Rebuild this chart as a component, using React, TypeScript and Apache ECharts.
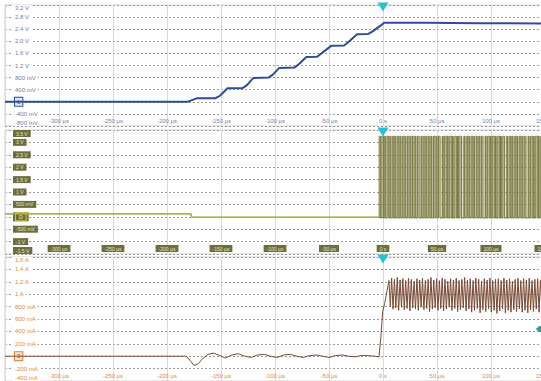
import React, { useEffect, useRef } from "react";
import * as echarts from "echarts";

// ---------- tick labels ----------
const timeTickLabels = ["-350 µs", "-300 µs", "-250 µs", "-200 µs", "-150 µs", "-100 µs", "-50 µs", "0 s", "50 µs", "100 µs", "150 µs"];
const ch1TickLabels = ["-800 mV", "-400 mV", "0", "400 mV", "800 mV", "1.2 V", "1.6 V", "2.0 V", "2.4 V", "2.8 V", "3.2 V"];
const ch2TickLabels = ["-1.5 V", "-1 V", "-500 mV", "0", "500 mV", "1 V", "1.5 V", "2 V", "2.5 V", "3 V", "3.5 V"];
const ch3TickLabels = ["-400 mA", "-200 mA", "0", "200 mA", "400 mA", "600 mA", "800 mA", "1 A", "1.2 A", "1.4 A", "1.6 A"];

// ---------- channel 1: staircase voltage (µs, V) ----------
const ch1Voltage: [number, number][] = [
  [-350, 0], [-181, 0], [-178, 0.04], [-172, 0.12], [-155, 0.12], [-151, 0.2], [-144, 0.45],
  [-130, 0.45], [-126, 0.55], [-120, 0.79], [-106, 0.8], [-102, 0.9], [-96, 1.12],
  [-82, 1.13], [-78, 1.24], [-71, 1.48], [-61, 1.49], [-57, 1.6], [-48, 1.85],
  [-36, 1.86], [-32, 1.98], [-24, 2.23], [-14, 2.24], [-10, 2.32], [-3, 2.5], [1, 2.61],
  [40, 2.61], [90, 2.6], [150, 2.59],
];

// ---------- channel 2: digital line (µs, V) ----------
const digitalIdle: [number, number][] = [[-350, 0.12], [-178, 0.12], [-177, -0.02], [-4, -0.02]];
const digitalHighV = 3.25;
const digitalLowV = -0.05;
const digitalPulsesUs: [number, number][] = [
  [-3.5, -2.2], [-1.0, 0.4], [1.6, 2.5], [3.9, 5.3], [6.4, 7.2], [8.6, 9.9], [11.0, 11.8], [13.2, 14.6],
  [15.7, 16.5], [17.9, 19.3], [20.4, 21.1], [22.6, 24.0], [25.1, 25.9], [27.3, 28.7], [29.8, 30.5],
  [32.0, 33.4], [35.2, 36.0], [37.3, 38.7], [39.8, 40.6], [42.0, 43.4], [44.5, 45.2], [46.7, 48.1],
  [49.2, 50.0], [51.4, 52.8], [55.0, 55.8], [57.1, 58.5], [59.6, 60.4], [61.8, 63.2], [64.3, 65.0],
  [66.5, 67.9], [69.0, 69.8], [71.2, 72.6], [74.9, 75.6], [77.0, 78.4], [79.5, 80.3], [81.7, 83.1],
  [84.2, 84.9], [86.4, 87.8], [88.9, 89.7], [91.1, 92.5], [94.7, 95.5], [96.9, 98.3], [99.4, 100.2],
  [101.6, 103.0], [104.1, 104.8], [106.3, 107.7], [108.8, 109.6], [111.0, 112.4], [114.6, 115.4],
  [116.8, 118.2], [119.3, 120.1], [121.5, 122.9], [124.0, 124.7], [126.2, 127.6], [128.7, 129.5],
  [130.9, 132.3], [134.5, 135.3], [136.7, 138.1], [139.2, 140.0], [141.4, 142.8], [143.9, 144.6],
  [146.1, 147.5], [148.6, 149.4], [150.8, 152.2],
];

// ---------- channel 3: current (µs, A) ----------
const currentIdle: [number, number][] = [
  [-350, 0.0], [-182, 0.0], [-178, -0.08], [-175, -0.15], [-171, -0.12], [-167, -0.04], [-162, 0.03],
  [-157, 0.05], [-151, 0.01], [-146, -0.03], [-140, 0.02], [-134, 0.04], [-128, 0.0], [-122, -0.02],
  [-116, 0.02], [-110, 0.03], [-104, 0.0], [-98, -0.02], [-92, 0.02], [-86, 0.03], [-80, 0.0],
  [-74, -0.02], [-68, 0.01], [-62, 0.02], [-56, 0.0], [-50, -0.02], [-44, 0.01], [-38, 0.02],
  [-32, 0.0], [-26, -0.01], [-20, 0.01], [-14, 0.01], [-8, 0.0], [-3.7, -0.01], [-2, 0.3],
  [-0.3, 0.72], [1.5, 0.85], [3, 0.98],
];
const currentBurst: [number, number][] = [
  [5.5, 1.22], [6.8, 0.8], [8.0, 1.26], [9.3, 0.76], [10.6, 1.24], [11.9, 0.78], [13.2, 1.27], [14.5, 0.74],
  [15.8, 1.23], [17.1, 0.79], [18.4, 1.25], [19.7, 0.75], [21.0, 1.22], [22.3, 0.77], [23.6, 1.26], [24.9, 0.73],
  [26.2, 1.24], [27.5, 0.78], [28.8, 1.21], [30.1, 0.76], [31.4, 1.25], [32.7, 0.74], [34.0, 1.23], [35.3, 0.79],
  [36.6, 1.26], [37.9, 0.75], [39.2, 1.22], [40.5, 0.77], [41.8, 1.24], [43.1, 0.72], [44.4, 1.27], [45.7, 0.76],
  [47.0, 1.23], [48.3, 0.78], [49.6, 1.25], [50.9, 0.74], [52.2, 1.22], [53.5, 0.77], [54.8, 1.26], [56.1, 0.73],
  [57.4, 1.24], [58.7, 0.76], [60.0, 1.21], [61.3, 0.79], [62.6, 1.25], [63.9, 0.74], [65.2, 1.23], [66.5, 0.77],
  [67.8, 1.26], [69.1, 0.72], [70.4, 1.22], [71.7, 0.75], [73.0, 1.24], [74.3, 0.78], [75.6, 1.27], [76.9, 0.73],
  [78.2, 1.23], [79.5, 0.76], [80.8, 1.25], [82.1, 0.71], [83.4, 1.22], [84.7, 0.74], [86.0, 1.26], [87.3, 0.77],
  [88.6, 1.24], [89.9, 0.7], [91.2, 1.21], [92.5, 0.75], [93.8, 1.25], [95.1, 0.72], [96.4, 1.23], [97.7, 0.76],
  [99.0, 1.26], [100.3, 0.71], [101.6, 1.22], [102.9, 0.74], [104.2, 1.24], [105.5, 0.69], [106.8, 1.25], [108.1, 0.73],
  [109.4, 1.22], [110.7, 0.76], [112.0, 1.26], [113.3, 0.7], [114.6, 1.23], [115.9, 0.74], [117.2, 1.25], [118.5, 0.71],
  [119.8, 1.21], [121.1, 0.75], [122.4, 1.24], [123.7, 0.72], [125.0, 1.26], [126.3, 0.76], [127.6, 1.22], [128.9, 0.71],
  [130.2, 1.25], [131.5, 0.74], [132.8, 1.23], [134.1, 0.7], [135.4, 1.26], [136.7, 0.75], [138.0, 1.22], [139.3, 0.72],
  [140.6, 1.24], [141.9, 0.76], [143.2, 1.25], [144.5, 0.71], [145.8, 1.23], [147.1, 0.74], [148.4, 1.26], [149.7, 0.72],
  [151.0, 1.24],
];
const refMarker: [number, number] = [146, 0.44];

const FONT = "Liberation Sans";
const T_MIN = -350, T_MAX = 150, T_INT = 50;

function tickLabel(labels: string[], min: number, interval: number, v: number) {
  const i = Math.round((v - min) / interval);
  return labels[i] ?? "";
}

function buildDigital(): [number, number][] {
  const out: [number, number][] = [...digitalIdle];
  for (const [r, f] of digitalPulsesUs) {
    out.push([r, digitalLowV], [r, digitalHighV], [f, digitalHighV], [f, digitalLowV]);
  }
  return out;
}

export default function App() {
  const ref = useRef<HTMLDivElement>(null);
  useEffect(() => {
    if (!ref.current) return;
    const chart = echarts.init(ref.current, undefined, { renderer: "svg" });
    const grids = [
      { left: 5, width: 540, top: 5, height: 121 },
      { left: 5, width: 540, top: 130, height: 124 },
      { left: 5, width: 540, top: 257, height: 124 },
    ].map((g) => ({
      ...g, show: true, borderColor: "#d4d4d4", borderWidth: 1, backgroundColor: "#ffffff",
      containLabel: false, outerBoundsMode: "none",
    }));

    const xLabelStyles = [
      { color: "#7083b0", fontSize: 6 },
      { color: "#e6e6c4", fontSize: 5, backgroundColor: "#6e6e3c", padding: [1, 3] },
      { color: "#e2874a", fontSize: 6 },
    ];
    const xAxes = [0, 1, 2].map((i) => ({
      type: "value",
      gridIndex: i,
      min: T_MIN,
      max: T_MAX,
      interval: T_INT,
      axisLine: { show: false },
      axisTick: { show: false },
      splitLine: { show: true, lineStyle: { color: "#d9d9d9", width: 1, type: "solid" } },
      axisLabel: {
        inside: true,
        margin: 2,
        showMinLabel: false,
        showMaxLabel: true,
        hideOverlap: false,
        fontFamily: FONT,
        formatter: (v: number) => tickLabel(timeTickLabels, T_MIN, T_INT, v),
        ...xLabelStyles[i],
      },
    }));

    const ySpecs = [
      { min: -0.8, max: 3.2, interval: 0.4, labels: ch1TickLabels, marker: "1",
        label: { color: "#6a7db2", fontSize: 6, backgroundColor: "#ffffff", padding: [0, 2] },
        markerStyle: { color: "#2f4f9f", borderColor: "#2f4f9f", borderWidth: 1, backgroundColor: "#dfe6f6", padding: [1, 2], fontSize: 6 } },
      { min: -1.5, max: 3.5, interval: 0.5, labels: ch2TickLabels, marker: "D",
        label: { color: "#e6e6c4", fontSize: 5, backgroundColor: "#6e6e3c", padding: [1, 3] },
        markerStyle: { color: "#f0f0a0", borderColor: "#c8c83a", borderWidth: 1, backgroundColor: "#6e6e3c", padding: [1, 3], fontSize: 5 } },
      { min: -0.4, max: 1.6, interval: 0.2, labels: ch3TickLabels, marker: "3",
        label: { color: "#e2874a", fontSize: 6, backgroundColor: "#ffffff", padding: [0, 2] },
        markerStyle: { color: "#c0561c", borderColor: "#e07a3a", borderWidth: 1, backgroundColor: "#fbe3d2", padding: [1, 2], fontSize: 6 } },
    ];
    const yAxes = ySpecs.map((s, i) => ({
      type: "value",
      gridIndex: i,
      min: s.min,
      max: s.max,
      interval: s.interval,
      axisLine: { show: false },
      axisTick: { show: false },
      splitLine: { show: true, lineStyle: { color: "#9c9c9c", width: 1, type: [2, 2] } },
      axisLabel: {
        inside: true,
        margin: 8,
        fontFamily: FONT,
        verticalAlignMinLabel: "bottom",
        verticalAlignMaxLabel: "top",
        ...s.label,
        formatter: (v: number) => {
          const t = tickLabel(s.labels, s.min, s.interval, v);
          return t === "0" ? `{m|${s.marker}}` : t;
        },
        rich: { m: { ...s.markerStyle, fontFamily: FONT } },
      },
    }));

    const trig = (ymax: number) => ({
      silent: true,
      symbol: "triangle",
      symbolRotate: 180,
      symbolSize: [11, 9],
      symbolOffset: [0, 2],
      itemStyle: { color: "#22c3d6" },
      label: { show: false },
      data: [{ coord: [0, ymax] }],
    });

    chart.setOption({
      animation: false,
      grid: grids,
      xAxis: xAxes,
      yAxis: yAxes,
      series: [
        {
          type: "line", xAxisIndex: 0, yAxisIndex: 0, data: ch1Voltage, showSymbol: false,
          lineStyle: { color: "#2d4c9c", width: 2 }, markPoint: trig(3.2), z: 5,
        },
        {
          type: "line", xAxisIndex: 1, yAxisIndex: 1, data: buildDigital(), showSymbol: false,
          lineStyle: { color: "#6f6f35", width: 0.9 },
          markArea: {
            silent: true,
            itemStyle: { color: "rgba(185,185,135,0.45)" },
            data: [[{ coord: [-4, digitalLowV] }, { coord: [T_MAX, digitalHighV] }]],
          },
          markPoint: trig(3.5), z: 5,
        },
        {
          type: "line", xAxisIndex: 1, yAxisIndex: 1, data: digitalIdle, showSymbol: false,
          lineStyle: { color: "#b4b43c", width: 1.5 }, z: 6,
        },
        {
          type: "line", xAxisIndex: 2, yAxisIndex: 2, data: [...currentIdle, ...currentBurst], showSymbol: false,
          lineStyle: { color: "#7a4a34", width: 1 },
          markPoint: {
            ...trig(1.6),
            data: [
              { coord: [0, 1.6] },
              { coord: refMarker, symbol: "path://M0,5 L5,0 L14,0 L14,10 L5,10 Z", symbolRotate: 0, symbolSize: [10, 6], symbolOffset: [0, 0], itemStyle: { color: "#2a9c9c" } },
            ],
          },
          z: 5,
        },
      ],
    });
    return () => chart.dispose();
  }, []);
  return <div ref={ref} style={{ position: "absolute", left: 0, top: 0, width: 541, height: 381, background: "#fff" }} />;
}
